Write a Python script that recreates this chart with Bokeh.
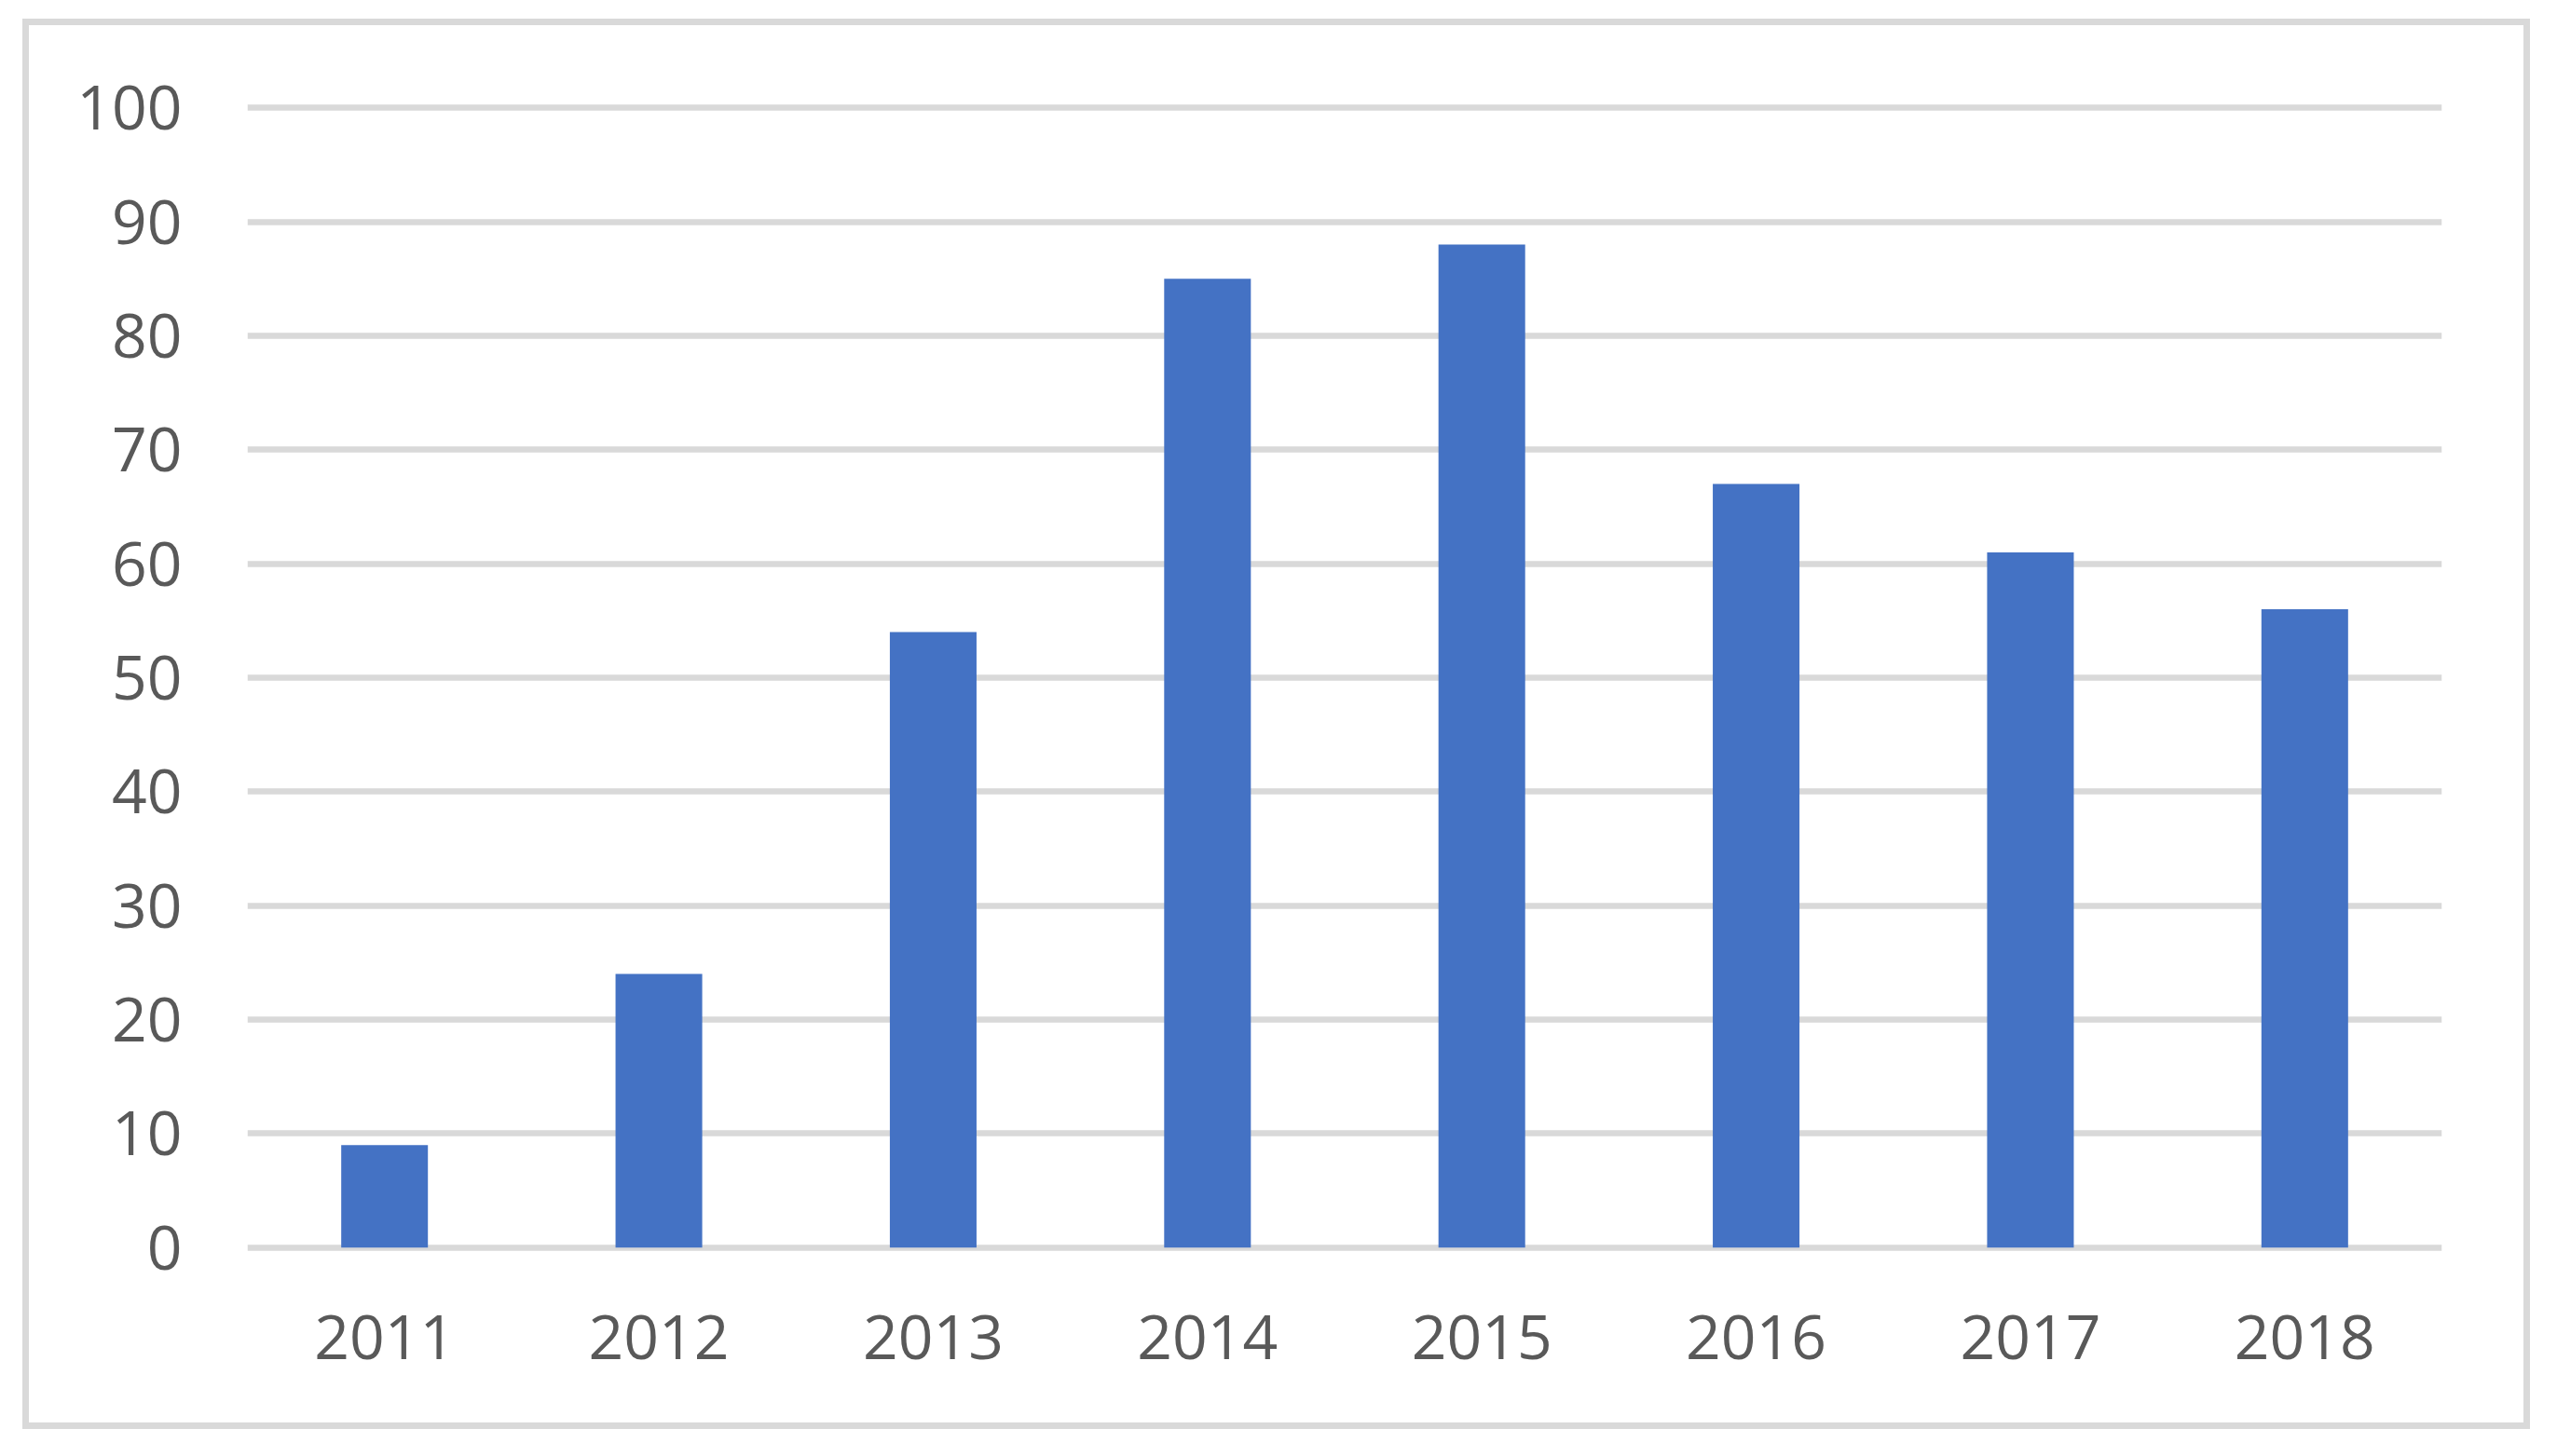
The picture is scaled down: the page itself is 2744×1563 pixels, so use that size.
from bokeh.plotting import figure
from bokeh.models import FactorRange, Range1d, FixedTicker, InlineStyleSheet
from bokeh.embed import file_html
from bokeh.resources import INLINE

years = ["2011", "2012", "2013", "2014", "2015", "2016", "2017", "2018"]
counts = [9, 24, 54, 85, 88, 67, 61, 56]
y_ticks = [0, 10, 20, 30, 40, 50, 60, 70, 80, 90, 100]

W, H = 2736, 1554
LEFT, RIGHT, TOP, BOTTOM = 265, 2620, 103, 1351
p = figure(
    width=W, height=H,
    x_range=FactorRange(*years, range_padding=0),
    y_range=Range1d(-1, 101),
    output_backend="svg", toolbar_location=None,
    min_border_left=LEFT, min_border_right=W - RIGHT,
    min_border_top=TOP, min_border_bottom=H - BOTTOM,
)
p.outline_line_color = None
p.background_fill_color = "white"
p.border_fill_color = "white"

# light grey chart-area border drawn over the canvas
p.stylesheets = [InlineStyleSheet(css="""
:host { position: relative; }
:host::after {
  content: '';
  position: absolute;
  left: 24px; top: 20px; width: 2691px; height: 1514px;
  box-sizing: border-box;
  border: 7px solid #D9D9D9;
  pointer-events: none;
  z-index: 100;
}
""")]

p.vbar(x=years, top=counts, bottom=0, width=0.316, color="#4472C4", line_color=None)

p.xgrid.grid_line_color = None
p.ygrid.ticker = FixedTicker(ticks=y_ticks)
p.ygrid.grid_line_color = "#D9D9D9"
p.ygrid.grid_line_width = 6.5

p.yaxis.ticker = FixedTicker(ticks=y_ticks)
for ax in (p.xaxis[0], p.yaxis[0]):
    ax.axis_line_color = None
    ax.major_tick_line_color = None
    ax.minor_tick_line_color = None
    ax.major_tick_in = 0
    ax.major_tick_out = 0
    ax.major_label_text_font = "Open Sans"
    ax.major_label_text_font_size = "66px"
    ax.major_label_text_color = "#595959"
p.yaxis.major_label_standoff = 70
p.xaxis.major_label_standoff = 60

open("out.html", "w").write(file_html(p, INLINE))
